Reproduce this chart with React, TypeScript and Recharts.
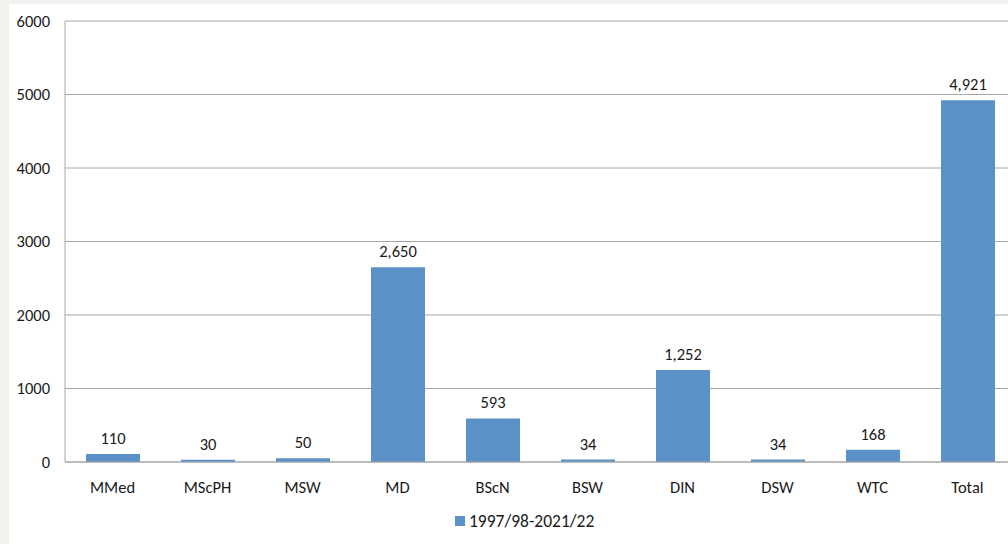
import React from 'react';
import { BarChart, Bar, XAxis, YAxis, CartesianGrid, LabelList } from 'recharts';

const programs = ['MMed', 'MScPH', 'MSW', 'MD', 'BScN', 'BSW', 'DIN', 'DSW', 'WTC', 'Total'];
const graduates = [110, 30, 50, 2650, 593, 34, 1252, 34, 168, 4921];
const yTicks = [0, 1000, 2000, 3000, 4000, 5000, 6000];
const seriesName = '1997/98-2021/22';

const rows = programs.map((p, i) => ({ name: p, value: graduates[i] }));

const font = 'Carlito, "Open Sans", "Liberation Sans", sans-serif';
const barColor = '#5a92c8';

export default function App() {
  return (
    <div style={{ position: 'absolute', left: 0, top: 0, width: 1008, height: 544, overflow: 'hidden', background: '#f3f1ee', fontFamily: font }}>
      <div style={{ position: 'absolute', left: 9, top: 4, width: 1100, height: 600, background: '#fff' }} />
      <div style={{ position: 'absolute', left: 0, top: 0 }}>
        <BarChart width={1040} height={544} data={rows} margin={{ top: 21, right: 25, bottom: 52, left: 15 }}>
          <CartesianGrid vertical={false} stroke="#a6a6a6" />
          <XAxis
            dataKey="name"
            height={30}
            axisLine={{ stroke: '#a6a6a6' }}
            tickLine={false}
            tick={{ fill: '#1a1a1a', fontSize: 16.5 }}
            tickMargin={13}
            interval={0}
          />
          <YAxis
            width={50}
            domain={[0, 6000]}
            ticks={yTicks}
            axisLine={{ stroke: '#a6a6a6' }}
            tickLine={false}
            tick={{ fill: '#1a1a1a', fontSize: 16.5 }}
            tickMargin={9}
          />
          <Bar dataKey="value" name={seriesName} fill={barColor} barSize={54} isAnimationActive={false}>
            <LabelList
              dataKey="value"
              position="top"
              offset={10}
              formatter={(v: number) => v.toLocaleString('en-US')}
              style={{ fill: '#1a1a1a', fontSize: 16.5 }}
            />
          </Bar>
        </BarChart>
      </div>
      <div style={{ position: 'absolute', left: 455, top: 510, display: 'flex', alignItems: 'center', fontSize: 17.5, color: '#1a1a1a' }}>
        <span style={{ display: 'inline-block', width: 10, height: 10, background: barColor, marginRight: 4 }} />
        <span>{seriesName}</span>
      </div>
    </div>
  );
}
